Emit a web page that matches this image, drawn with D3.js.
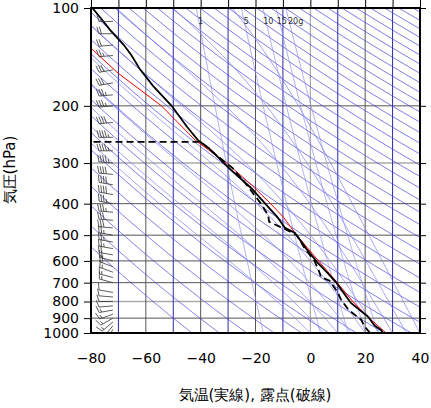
<!DOCTYPE html><html><head><meta charset="utf-8">
<script src="https://cdn.jsdelivr.net/npm/d3@7"></script>
<style>body{margin:0;background:#fff}text{font-family:"DejaVu Sans",sans-serif}</style></head><body>
<svg id="c" width="431" height="408"></svg>
<script>
const xTicks=[-80,-60,-40,-20,0,20,40];
const pTicks=[100,200,300,400,500,600,700,800,900,1000];
const tempP=[1000,979,950,890,850,808,750,697,650,610,550,492,475,440,409,358,315,300,270,255,232,200,174,155,140,130,117,106,100];
const tempT=[26.5,25.8,23.5,21,18,14.8,12,9.3,6,2.8,-1.5,-5.6,-9.2,-12,-15.4,-21.6,-29,-31.5,-37,-41,-45,-50.6,-57.3,-62,-65.2,-68,-73,-77,-79.5];
const dewP=[1000,960,910,850,790,750,720,690,673,640,600,550,500,480,455,434,400,345,310,285,258,258];
const dewT=[21.8,20,18.5,14,11.2,10,8.5,7,3.9,3,1.5,-2,-5,-9,-15,-15.4,-18,-23.8,-28.5,-34,-40,-80];
const redP=[1000,900,800,687,600,500,440,400,350,300,255,200,159,133];
const redT=[27.6,21.5,15.5,9,3,-5,-9.8,-14.5,-21.5,-30.5,-42,-54.3,-70,-80];
const windP=[1000,975,950,925,900,875,850,825,800,775,750,700,675,650,625,600,575,550,525,500,475,450,425,400,375,350,325,300,275,250,225,200,185,170,155,140,130,120,110,100];
const windDir=[200,210,220,230,240,250,260,265,270,275,280,285,285,290,290,285,280,280,280,280,275,275,275,280,280,280,275,275,270,270,265,265,265,260,260,265,265,270,270,275];
const windSpd=[10,15,15,15,15,15,15,10,10,10,10,15,15,15,20,20,20,25,25,25,30,30,35,35,40,40,40,45,45,45,40,35,35,30,30,25,20,20,15,10];
const mixW=[1,5,10,15,20];
const mixLabels=["1","5","10","15","20g"];
const thetas=d3.range(230,610,10);
const moistStart=d3.range(0,45,5);

const svg=d3.select("#c");
const L=91,R=420,T=8,B=333;
const x=d3.scaleLinear().domain([-80,40]).range([L,R]);
const y=d3.scaleLog().domain([100,1000]).range([T,B]);
svg.append("clipPath").attr("id","cp").append("rect").attr("x",L).attr("y",T).attr("width",R-L).attr("height",B-T);
const g=svg.append("g").attr("clip-path","url(#cp)");
const line=d3.line().x(d=>x(d[0])).y(d=>y(d[1]));
const ps=d3.range(1000,99,-5);
pTicks.forEach(p=>g.append("line").attr("x1",L).attr("x2",R).attr("y1",y(p)).attr("y2",y(p)).attr("stroke",p==300||p==800?"#aaa":"#555").attr("stroke-width",p==300||p==800?1.5:1));
d3.range(-70,40,10).forEach(t=>{const major=t%20==0;g.append("line").attr("x1",x(t)).attr("x2",x(t)).attr("y1",T).attr("y2",B).attr("stroke",t==0?"#999":(major?"#555":"#2a2aa8")).attr("stroke-width",1);});
thetas.forEach(th=>g.append("path").attr("d",line(ps.map(p=>[th*Math.pow(p/1000,0.286)-273.15,p]))).attr("fill","none").attr("stroke","#4444dd").attr("stroke-width",0.7));
function es(tc){return 6.112*Math.exp(17.67*tc/(tc+243.5));}
moistStart.forEach(t0=>{let Tk=t0+273.15,pts=[];for(let p=1000;p>=100;p-=5){pts.push([Tk-273.15,p]);const e=es(Tk-273.15),rs=0.622*e/(p-e);const g2=(287*Tk+2.5e6*rs)/(1004+2.5e6*2.5e6*rs*0.622/(287*Tk*Tk))/p;Tk-=g2*5;}
 g.append("path").attr("d",line(pts)).attr("fill","none").attr("stroke","#7a7af0").attr("stroke-width",0.7);});
function tdw(w,p){const e=w*p/(622+w);const a=Math.log(e/6.112);return 243.5*a/(17.67-a);}
mixW.forEach((w,i)=>{g.append("path").attr("d",line(ps.map(p=>[tdw(w,p),p]))).attr("fill","none").attr("stroke","#8c8cf5").attr("stroke-width",0.7);
 svg.append("text").attr("x",x(tdw(w,118))+(i==4?4:0)).attr("y",24).attr("font-size",8).attr("fill","#333").attr("text-anchor","middle").text(mixLabels[i]);});
g.append("path").attr("d",line(redT.map((t,i)=>[t,redP[i]]))).attr("fill","none").attr("stroke","#e00").attr("stroke-width",1);
g.append("path").attr("d",line(dewT.map((t,i)=>[t,dewP[i]]))).attr("fill","none").attr("stroke","#000").attr("stroke-width",1.8).attr("stroke-dasharray","7,4");
g.append("path").attr("d",line(tempT.map((t,i)=>[t,tempP[i]]))).attr("fill","none").attr("stroke","#000").attr("stroke-width",1.8);
windP.forEach((p,i)=>{const bx=x(-72),by=y(p);const a=(windDir[i])*Math.PI/180;const dx=Math.sin(a),dy=-Math.cos(a);const len=14;
 const ex=bx+dx*len,ey=by+dy*len;const bg=g.append("g").attr("stroke","#333").attr("stroke-width",0.8).attr("fill","none");
 bg.append("line").attr("x1",bx).attr("y1",by).attr("x2",ex).attr("y2",ey);
 let s=windSpd[i],k=0;const px=-dy,py=dx;
 while(s>=10){const sx=bx+dx*(len-k*2.5),sy=by+dy*(len-k*2.5);bg.append("line").attr("x1",sx).attr("y1",sy).attr("x2",sx+px*7+dx*2).attr("y2",sy+py*7+dy*2);s-=10;k++;}
 if(s>=5){const sx=bx+dx*(len-k*2.5),sy=by+dy*(len-k*2.5);bg.append("line").attr("x1",sx).attr("y1",sy).attr("x2",sx+px*3.5+dx).attr("y2",sy+py*3.5+dy);}
});
svg.append("rect").attr("x",L).attr("y",T).attr("width",R-L).attr("height",B-T).attr("fill","none").attr("stroke","#000").attr("stroke-width",2);
const ax=svg.append("g").attr("transform",`translate(0,${B})`).call(d3.axisBottom(x).tickValues(xTicks).tickSize(0).tickPadding(20));
ax.select(".domain").remove();ax.selectAll("text").attr("font-size",14).attr("fill","#000").style("font-family","DejaVu Sans");
svg.append("g").attr("transform",`translate(0,${T})`).call(d3.axisTop(x).tickValues(d3.range(-80,41,10)).tickSize(8).tickFormat("")).select(".domain").remove();
const ay=svg.append("g").attr("transform",`translate(${L},0)`).call(d3.axisLeft(y).tickValues(pTicks).tickSize(7).tickFormat(d3.format("d")).tickPadding(5));
ay.select(".domain").remove();ay.selectAll("text").attr("font-size",14).attr("fill","#000").style("font-family","DejaVu Sans");
svg.append("g").attr("transform",`translate(${R},0)`).call(d3.axisRight(y).tickValues(pTicks).tickSize(6).tickFormat("")).select(".domain").remove();
svg.append("text").attr("transform","translate(15,170) rotate(-90)").attr("text-anchor","middle").attr("font-size",15).text("気圧(hPa)");
svg.append("text").attr("x",255).attr("y",400).attr("text-anchor","middle").attr("font-size",15).text("気温(実線), 露点(破線)");
</script></body></html>
